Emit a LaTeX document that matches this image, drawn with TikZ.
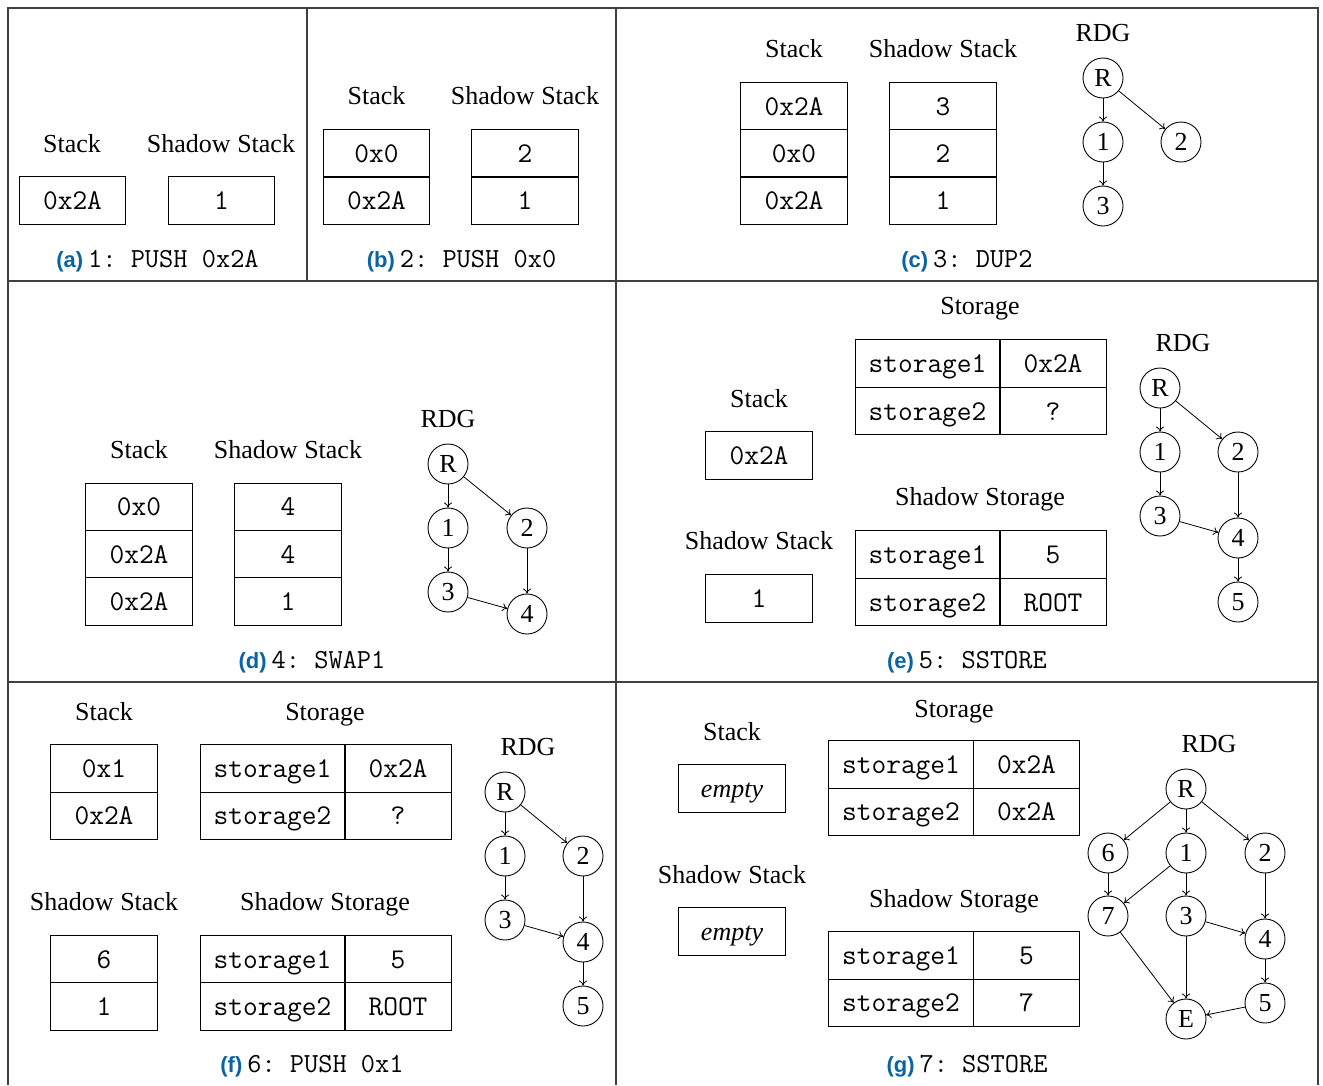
\documentclass[tikz,border=0pt]{standalone}
\usepackage{fontspec}
\setmainfont{Liberation Serif}
\setsansfont{Liberation Sans}
\usetikzlibrary{arrows.meta}
\definecolor{capblue}{HTML}{0A64A4}
\definecolor{framegray}{HTML}{404040}
\newcommand\mycaplab[1]{{\color{capblue}\sffamily\bfseries\fontsize{22}{26}\selectfont #1}\hspace{5pt}}
\newcommand\mycode[1]{{\ttfamily\frenchspacing\fontsize{27.6}{30}\selectfont #1}}
\tikzset{
  lab/.style={font=\fontsize{26}{30}\selectfont, anchor=base, inner sep=0pt},
  cell/.style={draw, line width=1pt, minimum width=106.5pt, minimum height=47.4pt, inner sep=0pt,
    font=\ttfamily\fontsize{28.6}{32}\selectfont, text height=18pt, text depth=0pt},
  kcell/.style={cell, minimum width=145pt},
  vtx/.style={circle, draw, line width=0.9pt, minimum size=40pt, inner sep=0pt, font=\fontsize{26}{30}\selectfont},
  arr/.style={-{To[length=5pt,width=8pt]}, line width=0.8pt},
  capnode/.style={anchor=base, inner sep=0pt},
  frameline/.style={draw=framegray, line width=1.2pt}
}
\begin{document}
\begin{tikzpicture}[x=1pt,y=-1pt]
\useasboundingbox (0,0) rectangle (1323,1085);
% frame
\draw[frameline] (8,1085) -- (8,8) -- (1318,8) -- (1318,1085);
\draw[frameline] (8,281) -- (1318,281);
\draw[frameline] (8,682) -- (1318,682);
\draw[frameline] (307,8) -- (307,281);
\draw[frameline] (616,8) -- (616,1085);

% ---------- (a)
\node[lab] (a-l1) at (72,152) {Stack};
\node[lab] (a-l2) at (221,152) {Shadow Stack};
\node[cell] (a-s1) at (72.5,200.5) {0x2A};
\node[cell] (a-h1) at (221.5,200.5) {1};
\node[capnode] (a-cap) at (157.5,267) {\mycaplab{(a)}\mycode{1: PUSH 0x2A}};

% ---------- (b)
\node[lab] (b-l1) at (376.5,104) {Stack};
\node[lab] (b-l2) at (525,104) {Shadow Stack};
\node[cell] (b-s1) at (376.5,153.3) {0x0};
\node[cell] (b-s2) at (376.5,200.6) {0x2A};
\node[cell] (b-h1) at (525,153.3) {2};
\node[cell] (b-h2) at (525,200.6) {1};
\node[capnode] (b-cap) at (461.5,267) {\mycaplab{(b)}\mycode{2: PUSH 0x0}};

% ---------- (c)
\node[lab] (c-l1) at (794,57) {Stack};
\node[lab] (c-l2) at (943,57) {Shadow Stack};
\node[cell] (c-s1) at (794,106) {0x2A};
\node[cell] (c-s2) at (794,153.3) {0x0};
\node[cell] (c-s3) at (794,200.6) {0x2A};
\node[cell] (c-h1) at (943,106) {3};
\node[cell] (c-h2) at (943,153.3) {2};
\node[cell] (c-h3) at (943,200.6) {1};
\node[lab] (c-rdg) at (1103,41) {RDG};
\node[vtx] (c-R) at (1103,78) {R};
\node[vtx] (c-1) at (1103,142) {1};
\node[vtx] (c-2) at (1181,142) {2};
\node[vtx] (c-3) at (1103,206) {3};
\draw[arr] (c-R) -- (c-1);
\draw[arr] (c-R) -- (c-2);
\draw[arr] (c-1) -- (c-3);
\node[capnode] (c-cap) at (967,267) {\mycaplab{(c)}\mycode{3: DUP2}};

% ---------- (d)
\node[lab] (d-l1) at (139,458) {Stack};
\node[lab] (d-l2) at (288,458) {Shadow Stack};
\node[cell] (d-s1) at (139,506.7) {0x0};
\node[cell] (d-s2) at (139,554) {0x2A};
\node[cell] (d-s3) at (139,601.3) {0x2A};
\node[cell] (d-h1) at (288,506.7) {4};
\node[cell] (d-h2) at (288,554) {4};
\node[cell] (d-h3) at (288,601.3) {1};
\node[lab] (d-rdg) at (448,427) {RDG};
\node[vtx] (d-R) at (448,464) {R};
\node[vtx] (d-1) at (448,528) {1};
\node[vtx] (d-2) at (527,528) {2};
\node[vtx] (d-3) at (448,592) {3};
\node[vtx] (d-4) at (527,614) {4};
\draw[arr] (d-R) -- (d-1);
\draw[arr] (d-R) -- (d-2);
\draw[arr] (d-1) -- (d-3);
\draw[arr] (d-2) -- (d-4);
\draw[arr] (d-3) -- (d-4);
\node[capnode] (d-cap) at (312,668) {\mycaplab{(d)}\mycode{4: SWAP1}};

% ---------- (e)
\node[lab] (e-l3) at (980,314) {Storage};
\node[kcell] (e-k1) at (927.5,363.5) {storage1};
\node[cell] (e-v1) at (1053,363.5) {0x2A};
\node[kcell] (e-k2) at (927.5,411) {storage2};
\node[cell] (e-v2) at (1053,411) {?};
\node[lab] (e-l1) at (759,407) {Stack};
\node[cell] (e-s1) at (759,455.5) {0x2A};
\node[lab] (e-l4) at (980,505) {Shadow Storage};
\node[kcell] (e-k3) at (927.5,554.5) {storage1};
\node[cell] (e-v3) at (1053,554.5) {5};
\node[kcell] (e-k4) at (927.5,602) {storage2};
\node[cell] (e-v4) at (1053,602) {ROOT};
\node[lab] (e-l2) at (759,549) {Shadow Stack};
\node[cell] (e-h1) at (759,598.5) {1};
\node[lab] (e-rdg) at (1183,351) {RDG};
\node[vtx] (e-R) at (1160,388) {R};
\node[vtx] (e-1) at (1160,452) {1};
\node[vtx] (e-2) at (1238,452) {2};
\node[vtx] (e-3) at (1160,516) {3};
\node[vtx] (e-4) at (1238,538) {4};
\node[vtx] (e-5) at (1238,602) {5};
\draw[arr] (e-R) -- (e-1);
\draw[arr] (e-R) -- (e-2);
\draw[arr] (e-1) -- (e-3);
\draw[arr] (e-2) -- (e-4);
\draw[arr] (e-3) -- (e-4);
\draw[arr] (e-4) -- (e-5);
\node[capnode] (e-cap) at (967,668) {\mycaplab{(e)}\mycode{5: SSTORE}};

% ---------- (f)
\node[lab] (f-l1) at (104,720) {Stack};
\node[cell] (f-s1) at (104,768.5) {0x1};
\node[cell] (f-s2) at (104,815.8) {0x2A};
\node[lab] (f-l3) at (325,720) {Storage};
\node[kcell] (f-k1) at (272.5,768.5) {storage1};
\node[cell] (f-v1) at (398,768.5) {0x2A};
\node[kcell] (f-k2) at (272.5,815.8) {storage2};
\node[cell] (f-v2) at (398,815.8) {?};
\node[lab] (f-l2) at (104,910) {Shadow Stack};
\node[cell] (f-h1) at (104,959) {6};
\node[cell] (f-h2) at (104,1006.3) {1};
\node[lab] (f-l4) at (325,910) {Shadow Storage};
\node[kcell] (f-k3) at (272.5,959) {storage1};
\node[cell] (f-v3) at (398,959) {5};
\node[kcell] (f-k4) at (272.5,1006.3) {storage2};
\node[cell] (f-v4) at (398,1006.3) {ROOT};
\node[lab] (f-rdg) at (528,755) {RDG};
\node[vtx] (f-R) at (505,792) {R};
\node[vtx] (f-1) at (505,856) {1};
\node[vtx] (f-2) at (583,856) {2};
\node[vtx] (f-3) at (505,920) {3};
\node[vtx] (f-4) at (583,942) {4};
\node[vtx] (f-5) at (583,1006) {5};
\draw[arr] (f-R) -- (f-1);
\draw[arr] (f-R) -- (f-2);
\draw[arr] (f-1) -- (f-3);
\draw[arr] (f-2) -- (f-4);
\draw[arr] (f-3) -- (f-4);
\draw[arr] (f-4) -- (f-5);
\node[capnode] (f-cap) at (312,1072) {\mycaplab{(f)}\mycode{6: PUSH 0x1}};

% ---------- (g)
\node[lab] (g-l1) at (732,740) {Stack};
\node[cell, font=\itshape\fontsize{26}{30}\selectfont] (g-s1) at (732,788.5) {empty};
\node[lab] (g-l3) at (954,717) {Storage};
\node[kcell] (g-k1) at (901,764.5) {storage1};
\node[cell] (g-v1) at (1026.5,764.5) {0x2A};
\node[kcell] (g-k2) at (901,811.8) {storage2};
\node[cell] (g-v2) at (1026.5,811.8) {0x2A};
\node[lab] (g-l2) at (732,883) {Shadow Stack};
\node[cell, font=\itshape\fontsize{26}{30}\selectfont] (g-h1) at (732,931.5) {empty};
\node[lab] (g-l4) at (954,907) {Shadow Storage};
\node[kcell] (g-k3) at (901,955.5) {storage1};
\node[cell] (g-v3) at (1026.5,955.5) {5};
\node[kcell] (g-k4) at (901,1002.8) {storage2};
\node[cell] (g-v4) at (1026.5,1002.8) {7};
\node[lab] (g-rdg) at (1209,752) {RDG};
\node[vtx] (g-R) at (1186,789) {R};
\node[vtx] (g-6) at (1108,853) {6};
\node[vtx] (g-1) at (1186,853) {1};
\node[vtx] (g-2) at (1265,853) {2};
\node[vtx] (g-7) at (1108,916) {7};
\node[vtx] (g-3) at (1186,916) {3};
\node[vtx] (g-4) at (1265,939) {4};
\node[vtx] (g-5) at (1265,1003) {5};
\node[vtx] (g-E) at (1186,1019) {E};
\draw[arr] (g-R) -- (g-6);
\draw[arr] (g-R) -- (g-1);
\draw[arr] (g-R) -- (g-2);
\draw[arr] (g-6) -- (g-7);
\draw[arr] (g-1) -- (g-7);
\draw[arr] (g-1) -- (g-3);
\draw[arr] (g-2) -- (g-4);
\draw[arr] (g-3) -- (g-4);
\draw[arr] (g-3) -- (g-E);
\draw[arr] (g-7) -- (g-E);
\draw[arr] (g-4) -- (g-5);
\draw[arr] (g-5) -- (g-E);
\node[capnode] (g-cap) at (967,1072) {\mycaplab{(g)}\mycode{7: SSTORE}};
\end{tikzpicture}
\end{document}
